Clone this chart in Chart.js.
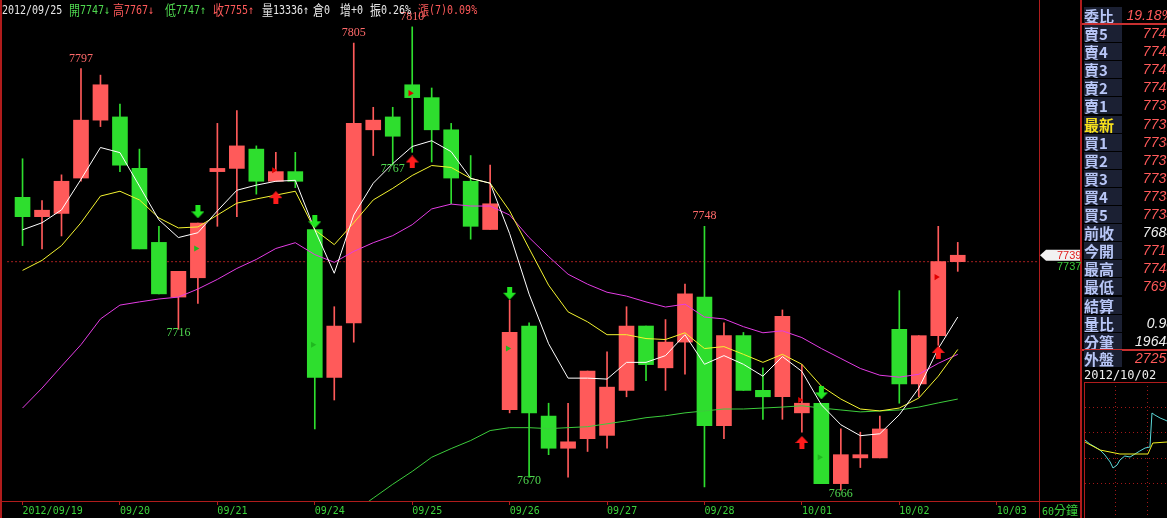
<!DOCTYPE html>
<html>
<head>
<meta charset="utf-8">
<script src="https://cdn.jsdelivr.net/npm/chart.js@4.4.0/dist/chart.umd.min.js"></script>
<style>
html, body { margin: 0; padding: 0; background: #000; overflow: hidden; }
#wrap { position: relative; width: 1167px; height: 518px; background: #000; }
#main { position: absolute; left: 0; top: 0; }
#head { position: absolute; left: 0; top: 0; width: 1000px; height: 17px; font: 10px "DejaVu Sans Mono", monospace; }
#head .seg { position: absolute; top: 2px; white-space: nowrap; line-height: 13px; transform: scaleY(1.2); transform-origin: 0 0; }
.cjk { font-family: "Noto Sans CJK TC", sans-serif; font-size: 11px; line-height: 13px; vertical-align: top; }
#panel { position: absolute; left: 1082px; top: 0; width: 85px; height: 518px; overflow: hidden; background: #000; }
.row { position: absolute; left: 0; width: 85px; height: 18px; }
.lab { position: absolute; left: 2px; top: 1px; width: 38px; height: 17px; background: #1b2033; color: #b8c6f6;
       font: bold 15px/17px "Noto Sans CJK TC", sans-serif; }
.val { position: absolute; right: -7px; top: 0; font: italic 14px/18px "Liberation Sans", sans-serif; }
#mini { position: absolute; left: 1082px; top: 382px; }
</style>
</head>
<body>
<div id="wrap">
  <canvas id="main" width="1082" height="518"></canvas>
  <div id="head"></div>
  <div id="panel"></div>
  <canvas id="mini" width="85" height="136"></canvas>
</div>
<script>
// 60-minute bars, 2012/09/19 - 2012/10/02
const dayLabels = ['2012/09/19', '09/20', '09/21', '09/24', '09/25', '09/26', '09/27', '09/28', '10/01', '10/02', '10/03'];
const dayTicks = [0, 5, 10, 15, 20, 25, 30, 35, 40, 45, 50];

const opens  = [7757, 7751, 7752, 7763, 7781, 7782, 7766, 7743, 7726, 7732,
                7765, 7766, 7772, 7762, 7765, 7747, 7701, 7718, 7778, 7782,
                7792, 7788, 7778, 7762, 7747, 7691, 7717, 7689, 7679, 7682,
                7683, 7697, 7717, 7704, 7712, 7726, 7686, 7714, 7697, 7695,
                7690, 7693, 7668, 7676, 7676, 7716, 7699, 7714, 7737];
const highs  = [7769, 7756, 7764, 7797, 7795, 7786, 7772, 7748, 7734, 7749,
                7780, 7784, 7773, 7771, 7771, 7747, 7723, 7805, 7785, 7785,
                7810, 7791, 7780, 7770, 7767, 7725, 7718, 7693, 7693, 7703,
                7709, 7723, 7717, 7719, 7730, 7748, 7718, 7715, 7704, 7722,
                7705, 7693, 7685, 7684, 7689, 7728, 7714, 7748, 7743];
const lows   = [7742, 7741, 7745, 7762, 7779, 7765, 7741, 7727, 7716, 7724,
                7748, 7751, 7758, 7762, 7760, 7685, 7694, 7712, 7770, 7767,
                7771, 7768, 7755, 7744, 7747, 7690, 7670, 7677, 7670, 7678,
                7679, 7695, 7700, 7697, 7702, 7667, 7682, 7697, 7688, 7688,
                7684, 7668, 7666, 7673, 7676, 7693, 7695, 7711, 7734];
const closes = [7751, 7753, 7762, 7781, 7792, 7767, 7741, 7727, 7734, 7749,
                7766, 7773, 7762, 7765, 7762, 7701, 7717, 7780, 7781, 7776,
                7788, 7778, 7763, 7748, 7755, 7715, 7690, 7679, 7681, 7703,
                7698, 7717, 7705, 7712, 7727, 7686, 7714, 7697, 7695, 7720,
                7693, 7668, 7677, 7677, 7685, 7699, 7714, 7737, 7739];

// moving averages
const maWhite   = [7746.9, 7749.1, 7753.1, 7762.6, 7772.5, 7770.9, 7760.5, 7750.0, 7744.5, 7746.0,
                   7752.8, 7759.2, 7760.8, 7762.0, 7762.3, 7746.9, 7733.4, 7751.5, 7761.4, 7767.5,
                   7772.8, 7774.6, 7771.2, 7762.9, 7761.4, 7745.7, 7726.9, 7711.5, 7700.8, 7700.8,
                   7700.5, 7705.7, 7705.7, 7707.8, 7714.3, 7705.1, 7707.8, 7705.1, 7701.4, 7707.5,
                   7702.9, 7692.5, 7686.3, 7682.9, 7683.5, 7689.4, 7697.7, 7710.0, 7719.8];
const maYellow  = [7734.3, 7737.4, 7742.0, 7749.1, 7757.4, 7758.9, 7756.2, 7750.6, 7747.5, 7747.8,
                   7751.5, 7755.2, 7756.5, 7757.7, 7758.9, 7746.9, 7742.3, 7749.1, 7756.2, 7759.8,
                   7763.8, 7766.9, 7766.3, 7762.9, 7761.4, 7752.8, 7741.1, 7729.7, 7721.4, 7718.3,
                   7714.3, 7714.3, 7713.1, 7712.8, 7714.9, 7710.0, 7710.6, 7708.2, 7705.7, 7708.2,
                   7705.1, 7698.3, 7694.3, 7691.2, 7690.6, 7691.5, 7694.6, 7701.4, 7709.7];
const maMagenta = [7691.5, 7697.7, 7704.5, 7711.2, 7719.2, 7723.5, 7724.5, 7725.4, 7726.0, 7728.5,
                   7731.5, 7734.9, 7737.7, 7741.1, 7742.9, 7739.2, 7736.8, 7740.2, 7742.9, 7745.1,
                   7748.5, 7753.4, 7754.9, 7754.3, 7754.3, 7751.5, 7744.5, 7738.6, 7733.1, 7730.0,
                   7727.5, 7726.3, 7724.5, 7722.9, 7723.8, 7719.8, 7719.2, 7716.8, 7714.9, 7715.5,
                   7713.4, 7710.0, 7706.9, 7703.8, 7701.7, 7701.1, 7702.0, 7705.4, 7708.2];
const maGreenStart = 17;
const maGreen   = [7659.2, 7663.5, 7667.8, 7671.8, 7676.2, 7678.9, 7681.4, 7684.5, 7685.4, 7685.4,
                   7685.1, 7685.4, 7685.7, 7686.6, 7687.5, 7688.5, 7689.1, 7690.0, 7690.6, 7691.2,
                   7691.2, 7691.5, 7691.8, 7692.2, 7691.5, 7690.9, 7690.3, 7690.6, 7690.9, 7691.8,
                   7693.1, 7694.3];

// signals
const sellIdx = [9, 15, 25, 41];
const sellArrowAt = [7752.5, 7749.4, 7727.2, 7696.2];
const sellMarkAt = [7741.1, 7711.2, 7710.0, 7676.2];
const buyIdx = [13, 20, 40, 47];
const buyArrowAt = [7756.9, 7768.0, 7680.8, 7708.8];
const buyMarkAt = [7765.4, 7789.4, 7694.0, 7732.2];

// high / low annotations
const peakIdx = [3, 17, 20, 35];
const peakVal = [7797, 7805, 7810, 7748];
const troughIdx = [8, 19, 26, 42];
const troughVal = [7716, 7767, 7670, 7666];

const refLine = 7737;
const lastPrice = 7739;

const RED = '#ff5a5a', GREEN = '#2ede2e', FRAME = '#b01c1c';

function makeArrow(color, down) {
  const c = document.createElement('canvas');
  c.width = 13; c.height = 13;
  const g = c.getContext('2d');
  g.fillStyle = color;
  g.beginPath();
  if (down) {
    g.moveTo(4, 0); g.lineTo(9, 0); g.lineTo(9, 6); g.lineTo(13, 6);
    g.lineTo(6.5, 13); g.lineTo(0, 6); g.lineTo(4, 6);
  } else {
    g.moveTo(6.5, 0); g.lineTo(13, 7); g.lineTo(9, 7); g.lineTo(9, 13);
    g.lineTo(4, 13); g.lineTo(4, 7); g.lineTo(0, 7);
  }
  g.closePath();
  g.fill();
  return c;
}

const candleColors = closes.map((c, i) => c >= opens[i] ? RED : GREEN);
const bodies = closes.map((c, i) => ({ x: i, y: [opens[i], c] }));
const wicks = closes.map((c, i) => ({ x: i, y: [lows[i], highs[i]] }));
const line = arr => arr.map((v, i) => ({ x: i, y: v }));

const frame = {
  id: 'frame',
  afterDatasetsDraw(chart) {
    const { ctx, scales: { x, y } } = chart;
    ctx.save();
    // peak / trough labels
    ctx.font = '12px "Liberation Serif"';
    ctx.textAlign = 'center';
    ctx.textBaseline = 'middle';
    ctx.fillStyle = '#ff6a6a';
    peakIdx.forEach((i, k) => ctx.fillText(String(peakVal[k]), x.getPixelForValue(i), y.getPixelForValue(peakVal[k]) - 10));
    ctx.fillStyle = '#4fd84f';
    troughIdx.forEach((i, k) => ctx.fillText(String(troughVal[k]), x.getPixelForValue(i), y.getPixelForValue(troughVal[k]) + 4));
    ctx.restore();
  },
  afterDraw(chart) {
    const { ctx, scales: { y }, chartArea } = chart;
    ctx.save();
    ctx.fillStyle = FRAME;
    ctx.fillRect(0, 0, 2, 518);
    ctx.fillRect(chartArea.right, 0, 1, 518);
    ctx.fillRect(1080, 0, 2, 518);
    ctx.fillRect(0, chartArea.bottom, 1082, 1);
    // price tag on the right
    const yr = y.getPixelForValue(refLine);
    ctx.font = '11px "Liberation Sans"';
    ctx.textBaseline = 'middle';
    ctx.textAlign = 'left';
    ctx.fillStyle = '#3cc83c';
    ctx.fillText(String(refLine), 1057, yr + 5);
    const yt = y.getPixelForValue(lastPrice);
    ctx.fillStyle = '#f2f2f2';
    ctx.beginPath();
    ctx.moveTo(1040, yt); ctx.lineTo(1046, yt - 5.5); ctx.lineTo(1080, yt - 5.5);
    ctx.lineTo(1080, yt + 5.5); ctx.lineTo(1046, yt + 5.5); ctx.closePath();
    ctx.fill();
    ctx.fillStyle = '#e02020';
    ctx.fillText(String(lastPrice), 1057, yt + 0.5);
    // period label
    ctx.fillStyle = '#3cd23c';
    ctx.textBaseline = 'alphabetic';
    ctx.font = '10px "DejaVu Sans Mono"';
    ctx.fillText('60', 1042, 515);
    ctx.font = '12px "Noto Sans CJK TC"';
    ctx.fillText('分鐘', 1054, 515);
    ctx.restore();
  }
};

new Chart(document.getElementById('main'), {
  type: 'bar',
  data: {
    datasets: [
      { type: 'line', data: [{ x: -1, y: refLine }, { x: 53, y: refLine }], borderColor: '#a82020',
        borderWidth: 1, borderDash: [2, 2], pointRadius: 0, order: 6 },
      { data: wicks, backgroundColor: candleColors, barThickness: 1, grouped: false, order: 5 },
      { data: bodies, backgroundColor: candleColors, barThickness: 15, grouped: false, order: 4 },
      { type: 'line', data: line(maGreen).map(p => ({ x: p.x + maGreenStart, y: p.y })), borderColor: '#3ccc3c',
        borderWidth: 1, pointRadius: 0, order: 3 },
      { type: 'line', data: line(maMagenta), borderColor: '#e43ce4', borderWidth: 1, pointRadius: 0, order: 3 },
      { type: 'line', data: line(maYellow), borderColor: '#f4f430', borderWidth: 1, pointRadius: 0, order: 2 },
      { type: 'line', data: line(maWhite), borderColor: '#ffffff', borderWidth: 1, pointRadius: 0, order: 1 },
      { type: 'line', showLine: false, data: sellIdx.map((i, k) => ({ x: i, y: sellArrowAt[k] })),
        pointStyle: makeArrow('#22e622', true), order: 0 },
      { type: 'line', showLine: false, data: buyIdx.map((i, k) => ({ x: i, y: buyArrowAt[k] })),
        pointStyle: makeArrow('#ff1c1c', false), order: 0 },
      { type: 'line', showLine: false, data: sellIdx.map((i, k) => ({ x: i - 0.1, y: sellMarkAt[k] })),
        pointStyle: 'triangle', rotation: 90, radius: 3.5, backgroundColor: '#1fb81f', borderWidth: 0, order: 0 },
      { type: 'line', showLine: false, data: buyIdx.map((i, k) => ({ x: i - 0.1, y: buyMarkAt[k] })),
        pointStyle: 'triangle', rotation: 90, radius: 3.5, backgroundColor: '#e00000', borderWidth: 0, order: 0 }
    ]
  },
  options: {
    responsive: false,
    animation: false,
    devicePixelRatio: 1,
    layout: { padding: { left: 3, right: 43, top: 0, bottom: 0 } },
    plugins: { legend: { display: false }, tooltip: { enabled: false } },
    scales: {
      x: {
        type: 'linear', min: -0.9, max: 52.17, position: 'bottom', offset: false,
        afterFit: s => { s.height = 17; },
        afterBuildTicks: s => { s.ticks = dayTicks.map(v => ({ value: v })); },
        ticks: {
          align: 'start', color: '#3cd23c', padding: 0, autoSkip: false, maxRotation: 0,
          font: { family: 'DejaVu Sans Mono', size: 10 },
          callback: (v, idx) => dayLabels[idx]
        },
        grid: { offset: false, drawOnChartArea: false, drawTicks: true, tickLength: 4, color: FRAME },
        border: { display: true, color: FRAME }
      },
      y: { display: false, min: 7662.6, max: 7816.8 }
    }
  },
  plugins: [frame]
});

// header line
const headSegs = [
  [2, '2012/09/25', '#e8e8e8'], [69, '開7747↓', '#4fd84f'], [113, '高7767↓', '#ff5a5a'],
  [165, '低7747↑', '#4fd84f'], [213, '收7755↑', '#ff5a5a'], [262, '量13336↑', '#e8e8e8'],
  [313, '倉0', '#e8e8e8'], [340, '增+0', '#e8e8e8'], [370, '振0.26%', '#e8e8e8'],
  [418, '漲(7)0.09%', '#ff5a5a']
];
const head = document.getElementById('head');
headSegs.forEach(([x, t, c]) => {
  const s = document.createElement('span');
  s.className = 'seg';
  s.style.left = x + 'px';
  s.style.color = c;
  s.innerHTML = t.replace(/([\u4e00-\u9fff])/g, '<span class="cjk">$1</span>');
  head.appendChild(s);
});

// quote panel
const panelRows = [
  ['賣5', '7743', RED], ['賣4', '7742', RED], ['賣3', '7741', RED], ['賣2', '7740', RED], ['賣1', '7739', RED],
  ['最新', '7739', RED], ['買1', '7738', RED], ['買2', '7737', RED], ['買3', '7736', RED], ['買4', '7735', RED],
  ['買5', '7734', RED], ['前收', '7684', '#f0f0f0'], ['今開', '7716', RED], ['最高', '7748', RED],
  ['最低', '7693', RED], ['結算', '', RED], ['量比', '0.98', '#f0f0f0'], ['分筆', '19644', '#f0f0f0']
];
const panel = document.getElementById('panel');
function addRow(top, label, value, color, labColor) {
  const r = document.createElement('div');
  r.className = 'row';
  r.style.top = top + 'px';
  r.innerHTML = '<div class="lab"' + (labColor ? ' style="color:' + labColor + '"' : '') + '>' + label +
    '</div><div class="val" style="color:' + color + '">' + value + '</div>';
  panel.appendChild(r);
}
function addLine(top, h) {
  const d = document.createElement('div');
  d.style.cssText = 'position:absolute;left:0;width:85px;top:' + top + 'px;height:' + h + 'px;background:#c83030';
  panel.appendChild(d);
}
addRow(6, '委比', '19.18%', RED);
addLine(23, 2);
panelRows.forEach(([l, v, c], k) => addRow(24 + k * 18.1, l, v, c, l === '最新' ? '#f8e01c' : null));
addLine(349, 2);
addRow(349, '外盤', '27250', RED);
const dt = document.createElement('div');
dt.style.cssText = 'position:absolute;left:2px;top:368px;color:#f0f0f0;font:12px/14px "DejaVu Sans Mono"';
dt.textContent = '2012/10/02';
panel.appendChild(dt);

// intraday mini chart of 10/02
const miniMinutes = [0, 12, 25, 37, 49, 62, 69, 79, 86, 98, 111, 123, 135, 148, 160, 165, 172, 185, 197, 202];
const miniPrice   = [7721, 7717, 7714, 7711, 7706, 7699, 7693, 7696, 7701, 7705, 7704, 7707, 7710, 7713, 7714, 7748, 7746, 7743, 7741, 7740];
const avgMinutes  = [0, 37, 86, 155, 167, 202];
const avgPrice    = [7719, 7711, 7707, 7707, 7718, 7719];
const miniGridY   = [7678, 7703, 7729, 7754];
const miniGridX   = [76, 155];

new Chart(document.getElementById('mini'), {
  type: 'line',
  data: {
    datasets: [
      { data: avgMinutes.map((m, i) => ({ x: m, y: avgPrice[i] })), borderColor: '#f0f020', borderWidth: 1, pointRadius: 0 },
      { data: miniMinutes.map((m, i) => ({ x: m, y: miniPrice[i] })), borderColor: '#5cd8d8', borderWidth: 1, pointRadius: 0 }
    ]
  },
  options: {
    responsive: false, animation: false, devicePixelRatio: 1,
    layout: { padding: { left: 3, right: 0, top: 0, bottom: 0 } },
    plugins: { legend: { display: false }, tooltip: { enabled: false } },
    scales: {
      x: { type: 'linear', min: 0, max: 202, afterFit: s => { s.height = 0; },
           afterBuildTicks: s => { s.ticks = miniGridX.map(v => ({ value: v })); },
           ticks: { display: false }, border: { display: false, dash: [1, 3] },
           grid: { color: '#a01818', drawTicks: false } },
      y: { min: 7643, max: 7779, afterFit: s => { s.width = 0; },
           afterBuildTicks: s => { s.ticks = miniGridY.map(v => ({ value: v })); },
           ticks: { display: false }, border: { display: false, dash: [1, 3] },
           grid: { color: '#a01818', drawTicks: false } }
    }
  },
  plugins: [{
    id: 'miniFrame',
    beforeDatasetsDraw(chart) {
      const { ctx, chartArea } = chart;
      ctx.save();
      ctx.fillStyle = FRAME;
      ctx.fillRect(chartArea.left - 1, 0, 1, 136);
      ctx.fillRect(chartArea.left - 1, 0, 85, 1);
      ctx.restore();
    }
  }]
});
</script>
</body>
</html>
